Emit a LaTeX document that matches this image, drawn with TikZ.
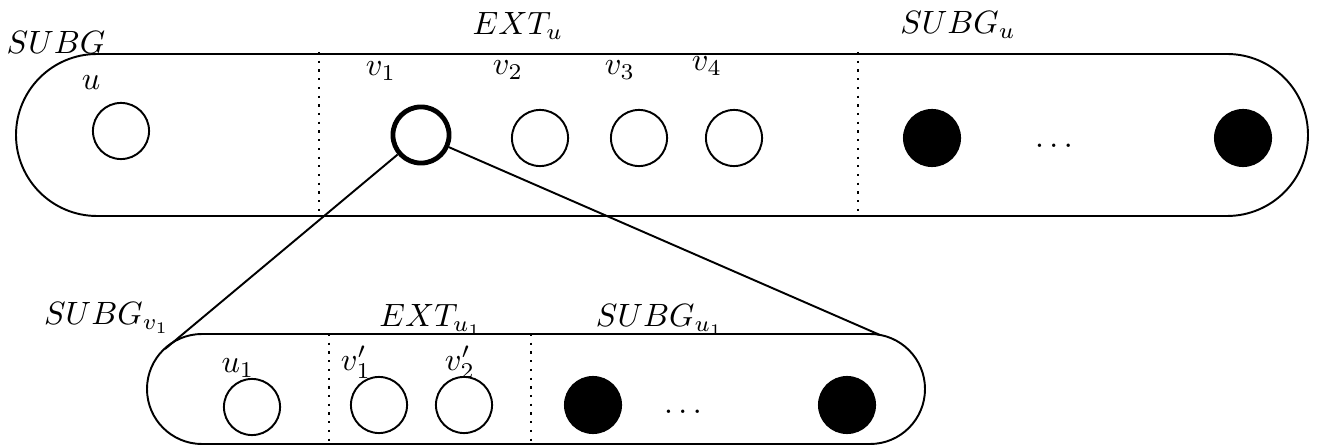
\documentclass[tikz,border=0pt]{standalone}
\usepackage{tikz}
\usepackage{amssymb}
\usepackage{amsfonts}

\tikzset{
  vert/.style={circle,draw,line width=0.6pt,minimum size=17.4pt,inner sep=0pt},
  vsel/.style={vert,line width=1.5pt},
  vsub/.style={vert,fill=black},
  lbl/.style={inner sep=0.75pt},
  sep/.style={dotted,line width=0.7pt}
}

\begin{document}
\begin{tikzpicture}[x=0.31pt,y=0.31pt,yscale=-1,xscale=1]
\useasboundingbox (0,0) rectangle (1317,446);

%Shape: Capsule (SUBG)
\draw [line width=0.6pt] (97,54) -- (1227,54) arc (-90:90:81) -- (97,216) arc (90:270:81) -- cycle ;
%Straight Lines (separators)
\draw [sep] (319,52) -- (319,216) ;
\draw [sep] (858,52) -- (858,216) ;

%Shape: Capsule (SUBG_v1)
\draw [line width=0.6pt] (202,334) -- (870,334) arc (-90:90:55) -- (202,444) arc (90:270:55) -- cycle ;
%Straight Lines (separators)
\draw [sep] (329,334) -- (329,446) ;
\draw [sep] (531,334) -- (531,446) ;

%Vertices (top)
\node [vert] (u) at (121,131) {} ;
\node [vsel] (v1) at (421,135) {} ;
\node [vert] (v2) at (540,138) {} ;
\node [vert] (v3) at (639,138) {} ;
\node [vert] (v4) at (734,138) {} ;
\node [vsub] (s1) at (932,138) {} ;
\node [vsub] (s2) at (1243,138) {} ;

%Vertices (bottom)
\node [vert] (u1) at (252,407) {} ;
\node [vert] (w1) at (379,405) {} ;
\node [vert] (w2) at (464,405) {} ;
\node [vsub] (t1) at (593,405) {} ;
\node [vsub] (t2) at (847,405) {} ;

%Straight Lines (zoom of v1)
\coordinate (lt) at (165,349) ;
\coordinate (rt) at (880,335) ;
\draw [line width=0.6pt] (v1) -- (lt) ;
\draw [line width=0.6pt] (v1) -- (rt) ;

% Text Node
\node [lbl] (lsubg) at (56,42) {$SUBG$} ;
% Text Node
\node [lbl] (lext) at (518,26) {$EXT_u$} ;
% Text Node
\node [lbl] (lsubgu) at (958,25) {$SUBG_u$} ;
% Text Node
\node [lbl] (lu) at (91,83) {$u$} ;
% Text Node
\node [lbl] (lv1) at (381,71) {$v_1$} ;
% Text Node
\node [lbl] (lv2) at (508,70) {$v_2$} ;
% Text Node
\node [lbl] (lv3) at (620,70) {$v_3$} ;
% Text Node
\node [lbl] (lv4) at (707,66) {$v_4$} ;
% Text Node
\node [lbl] (ldots) at (1054,146) {$\ldots$} ;

% Text Node
\node [lbl] (lsubgv) at (107,318) {$SUBG_{v_1}$} ;
% Text Node
\node [lbl] (lextu) at (431,320) {$EXT_{u_1}$} ;
% Text Node
\node [lbl] (lsubgu1) at (660,320) {$SUBG_{u_1}$} ;
% Text Node
\node [lbl] (lu1) at (238,368) {$u_1$} ;
% Text Node
\node [lbl] (lw1) at (356,362) {$v'_1$} ;
% Text Node
\node [lbl] (lw2) at (460,362) {$v'_2$} ;
% Text Node
\node [lbl] (ldots2) at (683,412) {$\ldots$} ;

\end{tikzpicture}
\end{document}
